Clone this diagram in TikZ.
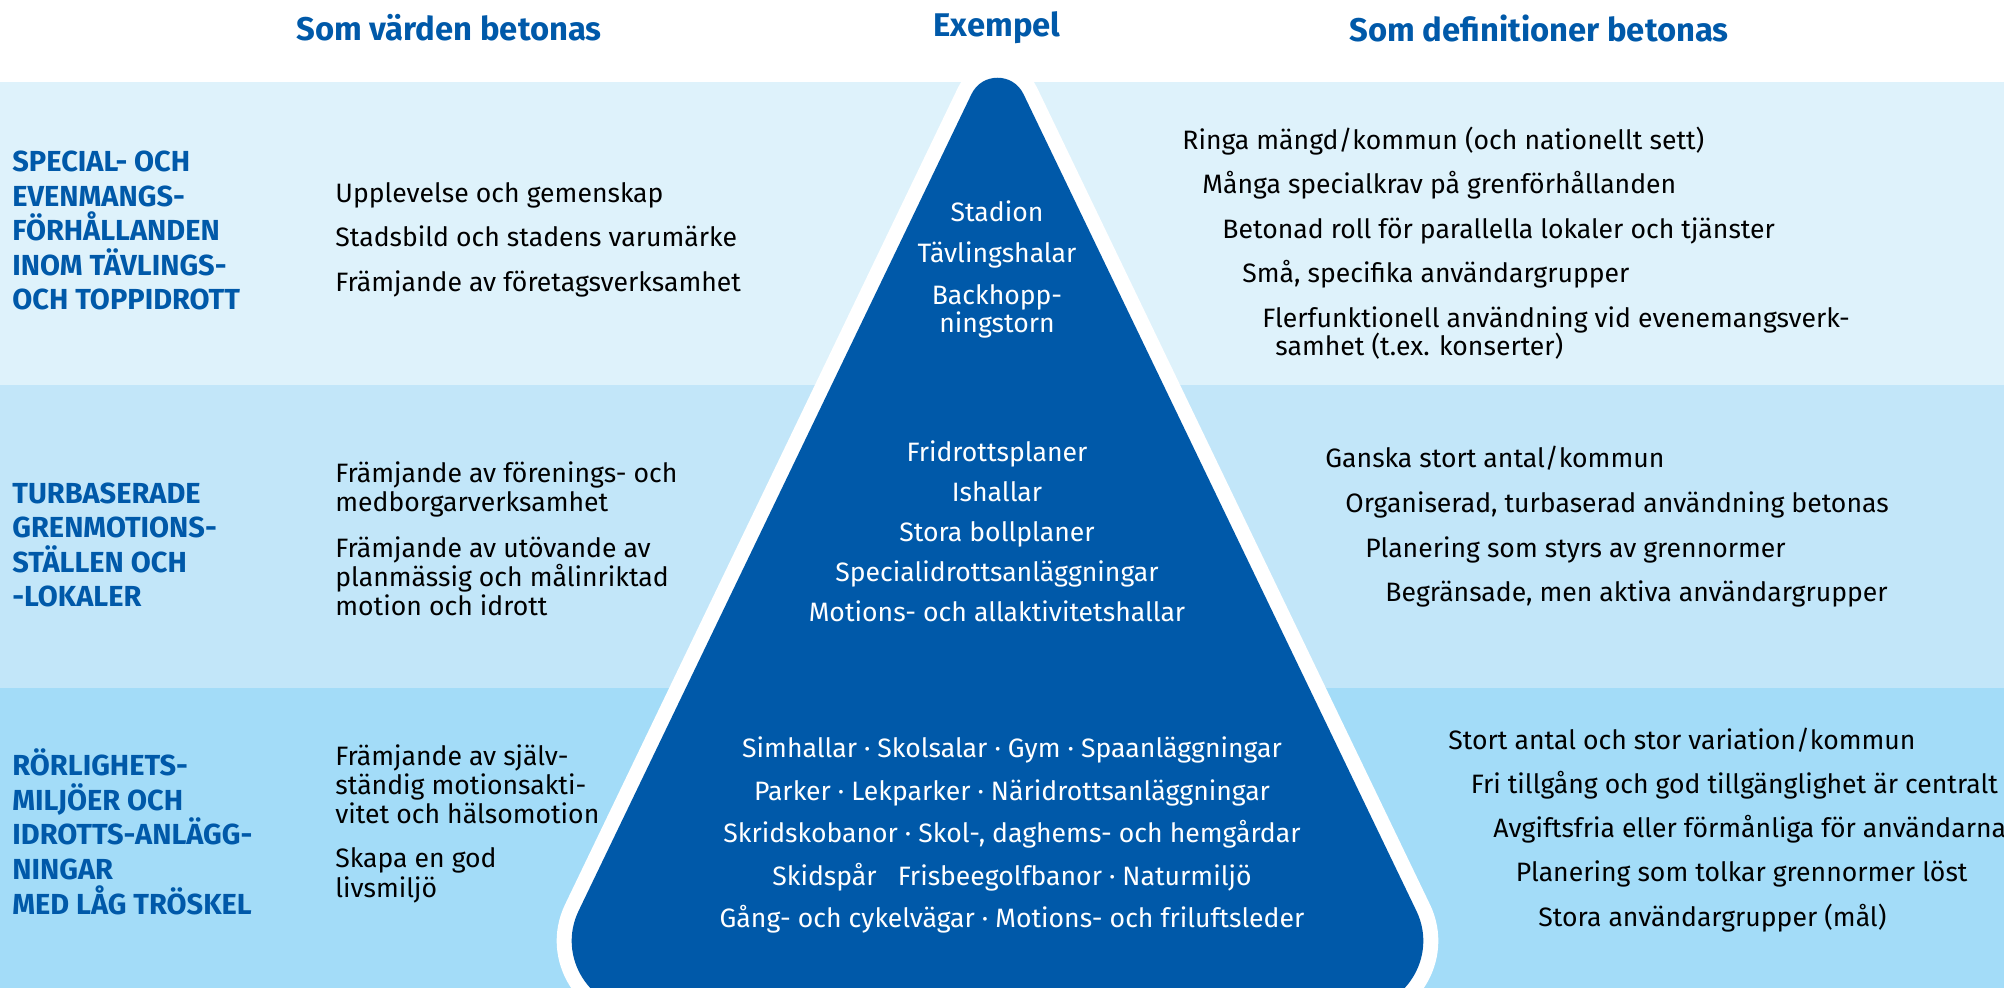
\documentclass[tikz,border=0pt]{standalone}
\usepackage{fontspec}
\setmainfont{Fira Sans}
\definecolor{hkiblue}{HTML}{0059A9}
\definecolor{bandtop}{HTML}{DEF2FB}
\definecolor{bandmid}{HTML}{C2E6F9}
\definecolor{bandlow}{HTML}{A3DCF8}
\tikzset{
        % column headings
        heading/.style={inner sep=0pt, text=hkiblue, font=\bfseries\fontsize{16.4}{19}\selectfont},
        % level labels to the left (placed at the last baseline)
        lvl_label/.style={anchor=base west, align=left, inner sep=0pt, text=hkiblue, font=\bfseries\fontsize{14.5}{17.3}\selectfont},
        % values column
        value/.style={anchor=base west, align=left, inner sep=0pt, font=\fontsize{13.3}{14.6}\selectfont},
        % examples inside the pyramid
        example/.style={anchor=base, align=center, inner sep=0pt, text=white, font=\fontsize{13.3}{14.3}\selectfont},
        % definitions column
        definition/.style={anchor=base west, align=left, inner sep=0pt, font=\fontsize{13.3}{14.3}\selectfont},
        % pyramid
        pyramid/.style={fill=hkiblue, preaction={draw=white, line width=15pt}}
}
\begin{document}
\begin{tikzpicture}[x=0.5pt, y=-0.5pt]
    \useasboundingbox (0,0) rectangle (2004,988);
    % bands
    \fill[bandtop] (0,82) rectangle (2004,385);
    \fill[bandmid] (0,385) rectangle (2004,688);
    \fill[bandlow] (0,688) rectangle (2004,988);
    % pyramid
    \begin{scope}
        \clip (0,0) rectangle (2004,988);
        \path[pyramid] (578.6,910.9) -- (971.5,94.1) .. controls (982,72.3) and (1013,72.3) .. (1023.5,94.1)
            -- (1416.4,910.9) .. controls (1438.5,956.8) and (1405,1010) .. (1354.1,1010)
            -- (640.9,1010) .. controls (590,1010) and (556.5,956.8) .. (578.6,910.9) -- cycle;
    \end{scope}

    % headings
    \node[heading] (h_value) at (449,28) {Som värden betonas};
    \node[heading] (h_example) at (997,28) {Exempel};
    \node[heading] (h_definition) at (1539,28) {Som definitioner betonas};

    % levels
    \node[lvl_label] (lab1) at (12,310) {SPECIAL- OCH\\EVENMANGS-\\FÖRHÅLLANDEN\\INOM TÄVLINGS-\\OCH TOPPIDROTT};
    \node[lvl_label] (lab2) at (12,607) {TURBASERADE\\GRENMOTIONS-\\STÄLLEN OCH\\-LOKALER};
    \node[lvl_label] (lab3) at (12,914) {RÖRLIGHETS-\\MILJÖER OCH\\IDROTTS-ANLÄGG-\\NINGAR\\MED LÅG TRÖSKEL};

    % values
    \foreach \t [count=\i] in {Upplevelse och gemenskap, Stadsbild och stadens varumärke, Främjande av företagsverksamhet}
        \node[value] (val1-\i) at (335,{158+44.5*\i}) {\t};
    \node[value] (val2-1) at (335,512) {Främjande av förenings- och\\medborgarverksamhet};
    \node[value] (val2-2) at (335,616) {Främjande av utövande av\\planmässig och målinriktad\\motion och idrott};
    \node[value] (val3-1) at (335,824) {Främjande av själv-\\ständig motionsakti-\\vitet och hälsomotion};
    \node[value] (val3-2) at (335,897) {Skapa en god\\livsmiljö};

    % examples
    \foreach \t [count=\i] in {Stadion, Tävlingshalar}
        \node[example] (ex1-\i) at (997,{180+41.5*\i}) {\t};
    \node[example] (ex1-3) at (997,333) {Backhopp-\\ningstorn};
    \foreach \t [count=\i] in {Fridrottsplaner, Ishallar, Stora bollplaner, Specialidrottsanläggningar, Motions- och allaktivitetshallar}
        \node[example] (ex2-\i) at (997,{422+40*\i}) {\t};
    \foreach \t [count=\i] in {Simhallar · Skolsalar · Gym · Spaanläggningar, Parker · Lekparker · Näridrottsanläggningar, {Skridskobanor · Skol-, daghems- och hemgårdar}, Skidspår\ \ \ Frisbeegolfbanor · Naturmiljö, Gång- och cykelvägar · Motions- och friluftsleder}
        \node[example] (ex3-\i) at (1012,{715+42.5*\i}) {\t};

    % definitions
    \foreach \t [count=\i] in {Ringa mängd/kommun (och nationellt sett), Många specialkrav på grenförhållanden, Betonad roll för parallella lokaler och tjänster, {Små, specifika användargrupper}}
        \node[definition] (def1-\i) at ({1162+20*\i},{105+44.5*\i}) {\t};
    \node[definition] (def1-5) at (1262,356) {Flerfunktionell användning vid evenemangsverk-\\\hspace*{6.5pt}samhet (t.ex. konserter)};
    \foreach \t [count=\i] in {Ganska stort antal/kommun, {Organiserad, turbaserad användning betonas}, Planering som styrs av grennormer, {Begränsade, men aktiva användargrupper}}
        \node[definition] (def2-\i) at ({1305+20*\i},{423+44.7*\i}) {\t};
    \foreach \t [count=\i] in {Stort antal och stor variation/kommun, Fri tillgång och god tillgänglighet är centralt, Avgiftsfria eller förmånliga för användarna, Planering som tolkar grennormer löst, Stora användargrupper (mål)}
        \node[definition] (def3-\i) at ({1425.5+22.5*\i},{705+44.2*\i}) {\t};
\end{tikzpicture}
\end{document}
